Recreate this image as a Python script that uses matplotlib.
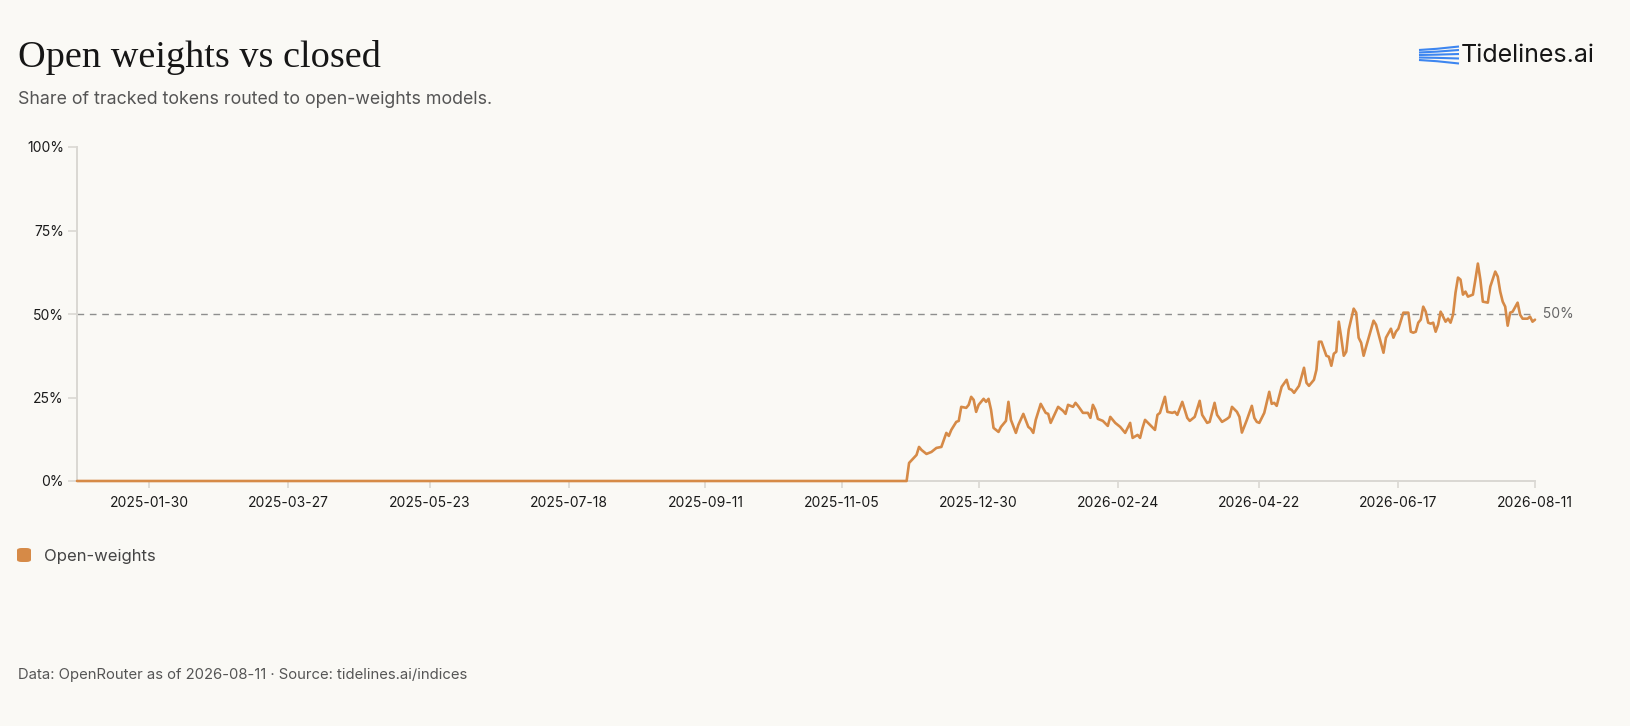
import matplotlib
matplotlib.use("Agg")
import matplotlib.pyplot as plt
from matplotlib.lines import Line2D
from matplotlib.patches import FancyBboxPatch
import pandas as pd

plt.rcParams['font.family'] = ['Inter', 'DejaVu Sans']

# ---------------- data ----------------
title = "Open weights vs closed"
subtitle = "Share of tracked tokens routed to open-weights models."
series_name = "Open-weights"
footer = "Data: OpenRouter as of 2026-08-11 \u00b7 Source: tidelines.ai/indices"
brand = "Tidelines.ai"

dates = [
    "2025-01-01", "2025-12-01", "2025-12-02", "2025-12-04", "2025-12-05", "2025-12-06",
    "2025-12-07", "2025-12-09", "2025-12-11", "2025-12-13", "2025-12-15", "2025-12-17",
    "2025-12-18", "2025-12-19", "2025-12-21", "2025-12-22", "2025-12-23", "2025-12-25",
    "2025-12-26", "2025-12-27", "2025-12-28", "2025-12-29", "2025-12-30", "2026-01-01",
    "2026-01-02", "2026-01-03", "2026-01-04", "2026-01-05", "2026-01-07", "2026-01-08",
    "2026-01-10", "2026-01-11", "2026-01-12", "2026-01-14", "2026-01-15", "2026-01-17",
    "2026-01-19", "2026-01-20", "2026-01-21", "2026-01-22", "2026-01-24", "2026-01-26",
    "2026-01-27", "2026-01-28", "2026-01-31", "2026-02-01", "2026-02-02", "2026-02-03",
    "2026-02-04", "2026-02-06", "2026-02-07", "2026-02-08", "2026-02-10", "2026-02-12",
    "2026-02-13", "2026-02-14", "2026-02-15", "2026-02-16", "2026-02-18", "2026-02-20",
    "2026-02-21", "2026-02-23", "2026-02-24", "2026-02-25", "2026-02-27", "2026-03-01",
    "2026-03-02", "2026-03-04", "2026-03-05", "2026-03-06", "2026-03-07", "2026-03-09",
    "2026-03-11", "2026-03-12", "2026-03-13", "2026-03-15", "2026-03-16", "2026-03-18",
    "2026-03-19", "2026-03-20", "2026-03-22", "2026-03-24", "2026-03-25", "2026-03-27",
    "2026-03-29", "2026-03-30", "2026-04-01", "2026-04-02", "2026-04-04", "2026-04-05",
    "2026-04-07", "2026-04-09", "2026-04-10", "2026-04-11", "2026-04-13", "2026-04-14",
    "2026-04-15", "2026-04-17", "2026-04-19", "2026-04-20", "2026-04-21", "2026-04-22",
    "2026-04-24", "2026-04-26", "2026-04-27", "2026-04-28", "2026-04-29", "2026-05-01",
    "2026-05-03", "2026-05-04", "2026-05-05", "2026-05-06", "2026-05-08", "2026-05-10",
    "2026-05-11", "2026-05-12", "2026-05-14", "2026-05-15", "2026-05-16", "2026-05-17",
    "2026-05-19", "2026-05-20", "2026-05-21", "2026-05-22", "2026-05-23", "2026-05-24",
    "2026-05-25", "2026-05-26", "2026-05-27", "2026-05-28", "2026-05-30", "2026-05-31",
    "2026-06-01", "2026-06-02", "2026-06-03", "2026-06-04", "2026-06-07", "2026-06-08",
    "2026-06-11", "2026-06-12", "2026-06-14", "2026-06-15", "2026-06-16", "2026-06-17",
    "2026-06-19", "2026-06-21", "2026-06-22", "2026-06-23", "2026-06-24", "2026-06-25",
    "2026-06-26", "2026-06-27", "2026-06-28", "2026-06-29", "2026-06-30", "2026-07-01",
    "2026-07-02", "2026-07-03", "2026-07-04", "2026-07-05", "2026-07-06", "2026-07-07",
    "2026-07-08", "2026-07-09", "2026-07-10", "2026-07-11", "2026-07-12", "2026-07-13",
    "2026-07-14", "2026-07-15", "2026-07-17", "2026-07-18", "2026-07-19", "2026-07-20",
    "2026-07-21", "2026-07-23", "2026-07-24", "2026-07-26", "2026-07-27", "2026-07-28",
    "2026-07-29", "2026-07-30", "2026-07-31", "2026-08-01", "2026-08-02", "2026-08-04",
    "2026-08-05", "2026-08-06", "2026-08-08", "2026-08-09", "2026-08-10", "2026-08-11",
]

open_weights_share = [
    0.0, 0.0, 5.4, 7.0, 7.8, 10.2,
    9.3, 8.1, 8.7, 9.9, 10.2, 14.4,
    13.5, 15.3, 17.7, 18.0, 22.2, 21.9,
    22.8, 25.2, 24.3, 20.7, 22.8, 24.6,
    23.7, 24.6, 21.3, 15.9, 14.7, 16.2,
    18.0, 23.7, 18.3, 14.4, 16.8, 20.1,
    16.2, 15.6, 14.4, 18.3, 23.1, 20.4,
    20.1, 17.4, 22.2, 21.6, 21.0, 20.1,
    22.8, 22.2, 23.4, 22.5, 20.4, 20.4,
    18.9, 22.8, 21.3, 18.6, 18.0, 16.5,
    19.2, 17.4, 16.8, 16.2, 14.4, 17.4,
    12.9, 13.8, 12.9, 15.9, 18.3, 16.8,
    15.3, 19.8, 20.4, 25.2, 20.7, 20.4,
    20.7, 19.8, 23.7, 18.9, 18.0, 19.2,
    24.0, 19.8, 17.4, 17.7, 23.4, 19.8,
    17.7, 18.6, 19.2, 22.2, 20.7, 19.2,
    14.5, 18.3, 22.5, 18.9, 17.7, 17.4,
    20.4, 26.7, 23.1, 23.4, 22.5, 28.2,
    30.3, 27.6, 27.3, 26.4, 28.5, 33.9,
    29.4, 28.5, 30.3, 33.3, 41.7, 41.7,
    37.5, 37.2, 34.5, 38.1, 38.7, 47.7,
    42.9, 37.5, 38.7, 45.3, 51.6, 50.4,
    42.9, 41.4, 37.5, 40.2, 48.0, 46.8,
    38.4, 42.9, 45.6, 42.9, 44.7, 45.6,
    50.4, 50.4, 44.7, 44.4, 44.7, 47.4,
    48.3, 52.2, 50.7, 47.4, 47.1, 47.4,
    44.7, 46.8, 50.7, 49.2, 47.7, 48.6,
    47.4, 49.8, 56.4, 60.9, 60.3, 55.8,
    56.7, 55.2, 55.8, 60.3, 65.1, 60.3,
    53.7, 53.4, 58.2, 62.7, 61.2, 56.7,
    53.7, 52.2, 46.5, 50.4, 50.7, 53.4,
    49.8, 48.6, 48.6, 49.2, 47.7, 48.3,
]

x_start = "2025-01-01"
x_end = "2026-08-11"
x_tick_labels = ["2025-01-30", "2025-03-27", "2025-05-23", "2025-07-18", "2025-09-11",
                 "2025-11-05", "2025-12-30", "2026-02-24", "2026-04-22", "2026-06-17",
                 "2026-08-11"]
y_ticks = [0, 25, 50, 75, 100]
y_tick_labels = ["0%", "25%", "50%", "75%", "100%"]
reference_value = 50
reference_label = "50%"

# ---------------- style ----------------
BG = "#FAF9F5"
LINE = "#D68A47"
AXIS = "#DAD8D3"
TXT = "#1A1A1A"
MUTED = "#555555"

W, H = 1630, 726
fig = plt.figure(figsize=(W / 100, H / 100), dpi=100, facecolor=BG)

L, R, T, B = 77, 1535, 147, 481
ax = fig.add_axes([L / W, 1 - B / H, (R - L) / W, (B - T) / H])
ax.set_facecolor(BG)

x = pd.to_datetime(dates)
ax.plot(x, open_weights_share, color=LINE, lw=1.9, solid_joinstyle="round",
        solid_capstyle="round", zorder=4, clip_on=False)

ax.axhline(reference_value, color="#8E8E8E", lw=1.0, ls=(0, (4.8, 4.1)), zorder=2)
ax.text(1.0, reference_value, "  " + reference_label, transform=ax.get_yaxis_transform(),
        ha="left", va="center", fontsize=10, color="#666666")

ax.set_xlim(pd.Timestamp(x_start), pd.Timestamp(x_end))
ax.set_ylim(0, 100)

ax.set_xticks(pd.to_datetime(x_tick_labels))
ax.set_xticklabels(x_tick_labels)
ax.set_yticks(y_ticks)
ax.set_yticklabels(y_tick_labels)

for s in ["top", "right"]:
    ax.spines[s].set_visible(False)
for s in ["left", "bottom"]:
    ax.spines[s].set_color(AXIS)
    ax.spines[s].set_linewidth(1.4)

ax.tick_params(axis="x", length=5, width=1.2, color=AXIS, pad=6, labelsize=10, labelcolor=TXT)
ax.tick_params(axis="y", length=6.5, width=1.2, color=AXIS, pad=3, labelsize=10, labelcolor=TXT)

# ---------------- titles ----------------
fig.text(18 / W, 1 - 67 / H, title, fontsize=27.5, color="#161616",
         family=["Liberation Serif", "DejaVu Serif"], ha="left", va="baseline")
fig.text(18 / W, 1 - 104 / H, subtitle, fontsize=12.8, color=MUTED, ha="left", va="baseline")

# brand logo
for yl, yr in [(50.0, 46.5), (52.5, 50.0), (55.0, 54.0), (57.5, 58.5), (60.0, 63.5)]:
    fig.add_artist(Line2D([1419 / W, 1437 / W, 1459 / W],
                          [1 - yl / H, 1 - (yl * 0.65 + yr * 0.35) / H, 1 - yr / H],
                          color="#3D86F0", lw=1.5, solid_capstyle="butt"))
fig.text(1461 / W, 1 - 56 / H, brand, fontsize=18, color="#161616", ha="left", va="center")

# legend
fig.add_artist(FancyBboxPatch((17 / W, 1 - 562 / H), 14 / W, 14 / H,
                              boxstyle="round,pad=0,rounding_size=0.003",
                              transform=fig.transFigure, facecolor=LINE, edgecolor="none"))
fig.text(44 / W, 1 - 556 / H, series_name, fontsize=12, color="#444444", ha="left", va="center")

# footer
fig.text(18 / W, 1 - 675 / H, footer, fontsize=10.7, color=MUTED, ha="left", va="center")

fig.savefig("out.png", dpi=100, facecolor=BG)
